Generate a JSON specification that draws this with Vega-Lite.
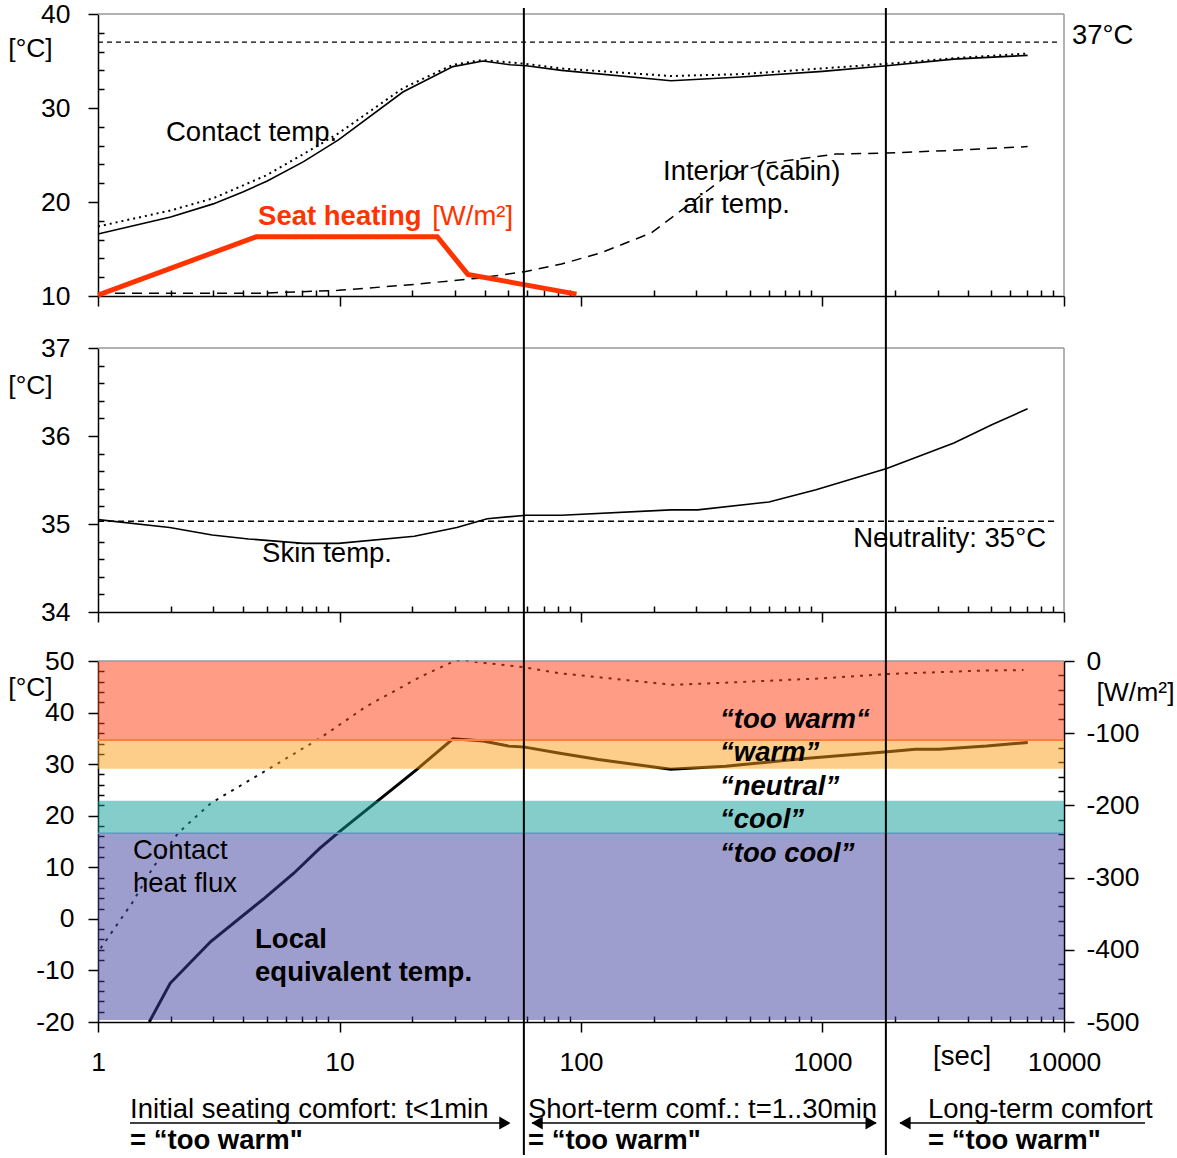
{
  "$schema": "https://vega.github.io/schema/vega-lite/v6.json",
  "width": 966,
  "height": 1147,
  "autosize": "none",
  "padding": {"left": 98, "top": 8, "right": 113, "bottom": 3},
  "background": "white",
  "config": {
    "view": {"stroke": null},
    "font": "Liberation Sans",
    "axis": {
      "domainColor": "black", "domainWidth": 1.5, "tickColor": "black", "tickWidth": 1.5,
      "labelColor": "black", "labelFontSize": 26.5, "labelFont": "Liberation Sans",
      "grid": false, "titleColor": "black", "titleFont": "Liberation Sans",
      "titleFontSize": 26.5, "titleFontWeight": "normal", "labelOverlap": false,
      "labelFlush": false, "labelBound": false
    },
    "text": {"font": "Liberation Sans", "fontSize": 27.5, "color": "black", "align": "left", "baseline": "middle"}
  },
  "data": {"values": [{}]},
  "datasets": {
    "contact": [{"t":1,"v":16.6},{"t":2,"v":18.4},{"t":3,"v":19.8},{"t":4,"v":21.1},{"t":5,"v":22.2},{"t":7.1,"v":24.3},{"t":9.9,"v":26.6},{"t":18.3,"v":31.7},{"t":29.5,"v":34.4},{"t":39.3,"v":35.0},{"t":50.9,"v":34.6},{"t":59.3,"v":34.5},{"t":83,"v":34.0},{"t":236,"v":32.9},{"t":460,"v":33.3},{"t":1000,"v":33.9},{"t":1845,"v":34.5},{"t":3500,"v":35.2},{"t":7070,"v":35.6}],
    "contactDot": [{"t":1,"v":17.4},{"t":2,"v":19.1},{"t":3,"v":20.4},{"t":4.94,"v":22.8},{"t":7.1,"v":25.1},{"t":9.9,"v":27.3},{"t":18.3,"v":32.1},{"t":29.5,"v":34.6},{"t":39,"v":35.1},{"t":59,"v":34.7},{"t":83,"v":34.2},{"t":236,"v":33.4},{"t":460,"v":33.6},{"t":1845,"v":34.7},{"t":3500,"v":35.3},{"t":7070,"v":35.8}],
    "air": [{"t":1,"v":10.3},{"t":4.8,"v":10.3},{"t":9.9,"v":10.6},{"t":19.7,"v":11.2},{"t":37.8,"v":11.9},{"t":59,"v":12.6},{"t":83,"v":13.4},{"t":121,"v":14.6},{"t":195,"v":16.7},{"t":273,"v":19.5},{"t":397,"v":22.7},{"t":580,"v":24.1},{"t":1140,"v":25.1},{"t":1845,"v":25.2},{"t":3500,"v":25.5},{"t":7070,"v":25.9}],
    "seat": [{"t":1,"v":10.1},{"t":4.52,"v":16.3},{"t":25.4,"v":16.3},{"t":34,"v":12.3},{"t":95.8,"v":10.2}],
    "skin": [{"t":1,"v":35.05},{"t":1.98,"v":34.96},{"t":2.97,"v":34.875},{"t":4.2,"v":34.83},{"t":7.1,"v":34.78},{"t":9.9,"v":34.78},{"t":20.4,"v":34.86},{"t":30.6,"v":34.96},{"t":40.9,"v":35.06},{"t":59.3,"v":35.1},{"t":83,"v":35.1},{"t":236,"v":35.16},{"t":304,"v":35.16},{"t":600,"v":35.25},{"t":940,"v":35.39},{"t":1845,"v":35.63},{"t":3500,"v":35.92},{"t":5050,"v":36.13},{"t":7070,"v":36.31}],
    "flux": [{"t":1.025,"w":-398},{"t":1.385,"w":-335},{"t":1.69,"w":-286},{"t":2.15,"w":-238},{"t":2.93,"w":-197},{"t":5.0,"w":-151},{"t":8.3,"w":-107},{"t":12.9,"w":-63},{"t":21.6,"w":-22},{"t":29.9,"w":0},{"t":33.6,"w":0},{"t":57.8,"w":-8.5},{"t":81.8,"w":-17},{"t":239,"w":-33},{"t":397,"w":-30},{"t":1000,"w":-24},{"t":1860,"w":-18},{"t":4460,"w":-13.4},{"t":6800,"w":-12.5}],
    "equiv": [{"t":1.63,"v":-20},{"t":1.99,"v":-12.5},{"t":2.93,"v":-4.4},{"t":4.8,"v":3.7},{"t":6.45,"v":8.8},{"t":8.3,"v":13.7},{"t":10,"v":16.9},{"t":20.8,"v":28.9},{"t":29.5,"v":34.9},{"t":39.3,"v":34.5},{"t":50,"v":33.5},{"t":58.5,"v":33.3},{"t":81.8,"v":32.1},{"t":118,"v":30.9},{"t":235,"v":29.0},{"t":397,"v":29.6},{"t":845,"v":31.1},{"t":1860,"v":32.4},{"t":2420,"v":32.9},{"t":3040,"v":32.9},{"t":4780,"v":33.5},{"t":7080,"v":34.2}],
    "bands": [{"band":"too warm","lo":34.7,"hi":50},{"band":"warm","lo":29.1,"hi":34.7},{"band":"cool","lo":16.6,"hi":22.9},{"band":"too cool","lo":-19.6,"hi":16.6}],
    "p1text": [{"t":1.912,"v":27.34,"label":"Contact temp."},{"t":218.6,"v":23.2,"label":"Interior (cabin)"},{"t":264.5,"v":19.7,"label":"air temp."},{"t":10790,"v":37.66,"label":"37°C"}],
    "p3text": [{"t":1.396,"v":13.16,"label":"Contact"},{"t":1.396,"v":6.76,"label":"heat flux"},{"t":2868,"v":-26.8,"label":"[sec]"},{"t":1.357,"v":-37.06,"label":"Initial seating comfort: t<1min"},{"t":60.3,"v":-37.06,"label":"Short-term comf.: t=1..30min"},{"t":2735,"v":-37.06,"label":"Long-term comfort"}],
    "p3bold": [{"t":4.47,"v":-4.1,"label":"Local"},{"t":4.47,"v":-10.5,"label":"equivalent temp."},{"t":1.357,"v":-43.08,"label":"= “too warm\""},{"t":60.3,"v":-43.08,"label":"= “too warm\""},{"t":2735,"v":-43.08,"label":"= “too warm\""}],
    "comfort": [{"t":376.3,"v":38.56,"label":"“too warm“"},{"t":376.3,"v":32.16,"label":"“warm”"},{"t":376.3,"v":25.57,"label":"“neutral”"},{"t":376.3,"v":19.17,"label":"“cool”"},{"t":376.3,"v":12.58,"label":"“too cool”"}],
    "arrows": [{"t":1.357,"t2":49.9,"v":-39.6},{"t":62.7,"t2":1665,"v":-39.6},{"t":2094,"t2":21647,"v":-39.6}],
    "headsR": [{"t":48.4,"v":-39.6},{"t":1590,"v":-39.6}],
    "headsL": [{"t":65.8,"v":-39.6},{"t":2195,"v":-39.6}],
    "periods": [{"t":58},{"t":1830}]
  },
  "resolve": {"scale": {"y": "independent"}, "axis": {"x": "independent", "y": "independent"}},
  "layer": [
    {"mark": {"type": "rule", "color": "#999999", "strokeWidth": 1.5},
     "encoding": {"x": {"datum": 1, "type": "quantitative", "scale": {"type": "log", "domain": [1, 10000], "nice": false}, "axis": null}, "x2": {"datum": 10000},
                  "y": {"datum": 40, "type": "quantitative", "scale": {"domain": [10, 40], "range": [288, 6], "nice": false, "zero": false}, "axis": null}}},
    {"mark": {"type": "rule", "color": "#999999", "strokeWidth": 1.5},
     "encoding": {"x": {"datum": 10000, "type": "quantitative", "scale": {"type": "log", "domain": [1, 10000], "nice": false}, "axis": null},
                  "y": {"datum": 10, "type": "quantitative", "scale": {"domain": [10, 40], "range": [288, 6], "nice": false, "zero": false}, "axis": null}, "y2": {"datum": 40}}},
    {"mark": {"type": "rule", "color": "black", "strokeWidth": 1.3, "strokeDash": [5, 4]},
     "encoding": {"x": {"datum": 1, "type": "quantitative", "scale": {"type": "log", "domain": [1, 10000], "nice": false}, "axis": null}, "x2": {"datum": 9355},
                  "y": {"datum": 37, "type": "quantitative", "scale": {"domain": [10, 40], "range": [288, 6], "nice": false, "zero": false}, "axis": null}}},
    {"data": {"name": "air"},
     "mark": {"type": "line", "color": "black", "strokeWidth": 1.5, "strokeDash": [10, 7]},
     "encoding": {"x": {"field": "t", "type": "quantitative", "scale": {"type": "log", "domain": [1, 10000], "nice": false}, "axis": null},
                  "y": {"field": "v", "type": "quantitative", "scale": {"domain": [10, 40], "range": [288, 6], "nice": false, "zero": false}, "axis": null}}},
    {"data": {"name": "contact"},
     "mark": {"type": "line", "color": "black", "strokeWidth": 1.6},
     "encoding": {"x": {"field": "t", "type": "quantitative", "scale": {"type": "log", "domain": [1, 10000], "nice": false},
                        "axis": {"orient": "bottom", "offset": -859, "values": [1,2,3,4,5,6,7,8,9,10,20,30,40,50,60,70,80,90,100,200,300,400,500,600,700,800,900,1000,2000,3000,4000,5000,6000,7000,8000,9000,10000], "labels": false, "title": null,
                                 "tickSize": {"condition": {"test": "indexof([1,10,100,1000,10000], datum.value) >= 0", "value": 10}, "value": -6}}},
                  "y": {"field": "v", "type": "quantitative", "scale": {"domain": [10, 40], "range": [288, 6], "nice": false, "zero": false},
                        "axis": {"orient": "left", "values": [10,12,14,16,18,20,22,24,26,28,30,32,34,36,38,40], "labelOverlap": false,
                                 "labelExpr": "datum.value % 10 == 0 ? '' + round(datum.value) : ''", "labelPadding": 18,
                                 "tickSize": {"condition": {"test": "datum.value % 10 == 0", "value": 10}, "value": -6},
                                 "title": "[°C]", "titleAngle": 0, "titleAlign": "center", "titleBaseline": "middle", "titleX": -68, "titleY": 40}}}},
    {"data": {"name": "contactDot"},
     "mark": {"type": "line", "color": "black", "strokeWidth": 2, "strokeDash": [2, 4]},
     "encoding": {"x": {"field": "t", "type": "quantitative", "scale": {"type": "log", "domain": [1, 10000], "nice": false}, "axis": null},
                  "y": {"field": "v", "type": "quantitative", "scale": {"domain": [10, 40], "range": [288, 6], "nice": false, "zero": false}, "axis": null}}},
    {"data": {"name": "seat"},
     "mark": {"type": "line", "color": "#FF3300", "strokeWidth": 5},
     "encoding": {"x": {"field": "t", "type": "quantitative", "scale": {"type": "log", "domain": [1, 10000], "nice": false}, "axis": null},
                  "y": {"field": "v", "type": "quantitative", "scale": {"domain": [10, 40], "range": [288, 6], "nice": false, "zero": false}, "axis": null}}},
    {"data": {"name": "p1text"},
     "mark": {"type": "text"},
     "encoding": {"x": {"field": "t", "type": "quantitative", "scale": {"type": "log", "domain": [1, 10000], "nice": false}, "axis": null},
                  "y": {"field": "v", "type": "quantitative", "scale": {"domain": [10, 40], "range": [288, 6], "nice": false, "zero": false}, "axis": null},
                  "text": {"field": "label"}}},
    {"mark": {"type": "text", "color": "#FF3300", "fontWeight": "bold"},
     "encoding": {"x": {"datum": 4.6, "type": "quantitative", "scale": {"type": "log", "domain": [1, 10000], "nice": false}, "axis": null},
                  "y": {"datum": 18.4, "type": "quantitative", "scale": {"domain": [10, 40], "range": [288, 6], "nice": false, "zero": false}, "axis": null},
                  "text": {"value": "Seat heating"}}},
    {"mark": {"type": "text", "color": "#FF3300"},
     "encoding": {"x": {"datum": 24.2, "type": "quantitative", "scale": {"type": "log", "domain": [1, 10000], "nice": false}, "axis": null},
                  "y": {"datum": 18.4, "type": "quantitative", "scale": {"domain": [10, 40], "range": [288, 6], "nice": false, "zero": false}, "axis": null},
                  "text": {"value": "[W/m²]"}}},

    {"mark": {"type": "rule", "color": "#999999", "strokeWidth": 1.5},
     "encoding": {"x": {"datum": 1, "type": "quantitative", "scale": {"type": "log", "domain": [1, 10000], "nice": false}, "axis": null}, "x2": {"datum": 10000},
                  "y": {"datum": 37, "type": "quantitative", "scale": {"domain": [34, 37], "range": [604, 340], "nice": false, "zero": false}, "axis": null}}},
    {"mark": {"type": "rule", "color": "#999999", "strokeWidth": 1.5},
     "encoding": {"x": {"datum": 10000, "type": "quantitative", "scale": {"type": "log", "domain": [1, 10000], "nice": false}, "axis": null},
                  "y": {"datum": 34, "type": "quantitative", "scale": {"domain": [34, 37], "range": [604, 340], "nice": false, "zero": false}, "axis": null}, "y2": {"datum": 37}}},
    {"mark": {"type": "rule", "color": "black", "strokeWidth": 1.5, "strokeDash": [6, 4]},
     "encoding": {"x": {"datum": 1, "type": "quantitative", "scale": {"type": "log", "domain": [1, 10000], "nice": false}, "axis": null}, "x2": {"datum": 9180},
                  "y": {"datum": 35.03, "type": "quantitative", "scale": {"domain": [34, 37], "range": [604, 340], "nice": false, "zero": false}, "axis": null}}},
    {"data": {"name": "skin"},
     "mark": {"type": "line", "color": "black", "strokeWidth": 1.6},
     "encoding": {"x": {"field": "t", "type": "quantitative", "scale": {"type": "log", "domain": [1, 10000], "nice": false},
                        "axis": {"orient": "bottom", "offset": -543, "values": [1,2,3,4,5,6,7,8,9,10,20,30,40,50,60,70,80,90,100,200,300,400,500,600,700,800,900,1000,2000,3000,4000,5000,6000,7000,8000,9000,10000], "labels": false, "title": null,
                                 "tickSize": {"condition": {"test": "indexof([1,10,100,1000,10000], datum.value) >= 0", "value": 10}, "value": -6}}},
                  "y": {"field": "v", "type": "quantitative", "scale": {"domain": [34, 37], "range": [604, 340], "nice": false, "zero": false},
                        "axis": {"orient": "left", "values": [34,34.2,34.4,34.6,34.8,35,35.2,35.4,35.6,35.8,36,36.2,36.4,36.6,36.8,37], "labelOverlap": false,
                                 "labelExpr": "abs(datum.value - round(datum.value)) < 0.01 ? '' + round(datum.value) : ''", "labelPadding": 18,
                                 "tickSize": {"condition": {"test": "abs(datum.value - round(datum.value)) < 0.01", "value": 10}, "value": -6},
                                 "title": "[°C]", "titleAngle": 0, "titleAlign": "center", "titleBaseline": "middle", "titleX": -68, "titleY": 377}}}},
    {"mark": {"type": "text"},
     "encoding": {"x": {"datum": 4.78, "type": "quantitative", "scale": {"type": "log", "domain": [1, 10000], "nice": false}, "axis": null},
                  "y": {"datum": 34.66, "type": "quantitative", "scale": {"domain": [34, 37], "range": [604, 340], "nice": false, "zero": false}, "axis": null},
                  "text": {"value": "Skin temp."}}},
    {"mark": {"type": "text", "align": "right"},
     "encoding": {"x": {"datum": 8425, "type": "quantitative", "scale": {"type": "log", "domain": [1, 10000], "nice": false}, "axis": null},
                  "y": {"datum": 34.83, "type": "quantitative", "scale": {"domain": [34, 37], "range": [604, 340], "nice": false, "zero": false}, "axis": null},
                  "text": {"value": "Neutrality: 35°C"}}},

    {"data": {"name": "flux"},
     "mark": {"type": "line", "color": "#111111", "strokeWidth": 2, "strokeDash": [3, 6]},
     "encoding": {
       "x": {"field": "t", "type": "quantitative", "scale": {"type": "log", "domain": [1, 10000], "nice": false}, "axis": null},
       "y": {"field": "w", "type": "quantitative", "scale": {"domain": [-500, 0], "range": [1014, 653], "nice": false, "zero": false},
             "axis": {"orient": "right", "values": [0,-20,-40,-60,-80,-100,-120,-140,-160,-180,-200,-220,-240,-260,-280,-300,-320,-340,-360,-380,-400,-420,-440,-460,-480,-500], "labelOverlap": false,
                      "labelExpr": "datum.value % 100 == 0 ? (datum.value < 0 ? '-' : '') + abs(datum.value) : ''", "labelPadding": 12,
                      "tickSize": {"condition": {"test": "datum.value % 100 == 0", "value": 10}, "value": -6},
                      "title": "[W/m²]", "titleAngle": 0, "titleAlign": "center", "titleBaseline": "middle", "titleX": 71, "titleY": 684}}}},
    {"data": {"name": "equiv"},
     "mark": {"type": "line", "color": "#000000", "strokeWidth": 3},
     "encoding": {"x": {"field": "t", "type": "quantitative", "scale": {"type": "log", "domain": [1, 10000], "nice": false},
                        "axis": {"orient": "bottom", "offset": -133, "values": [1,2,3,4,5,6,7,8,9,10,20,30,40,50,60,70,80,90,100,200,300,400,500,600,700,800,900,1000,2000,3000,4000,5000,6000,7000,8000,9000,10000], "labelOverlap": false,
                                 "labelExpr": "indexof([1,10,100,1000,10000], datum.value) >= 0 ? '' + round(datum.value) : ''", "labelPadding": 17, "title": null,
                                 "tickSize": {"condition": {"test": "indexof([1,10,100,1000,10000], datum.value) >= 0", "value": 10}, "value": -6}}},
                  "y": {"field": "v", "type": "quantitative", "scale": {"domain": [-20, 50], "range": [1014, 653], "nice": false, "zero": false},
                        "axis": {"orient": "left", "values": [-20,-18,-16,-14,-12,-10,-8,-6,-4,-2,0,2,4,6,8,10,12,14,16,18,20,22,24,26,28,30,32,34,36,38,40,42,44,46,48,50], "labelOverlap": false,
                                 "labelExpr": "datum.value % 10 == 0 ? (datum.value < 0 ? '-' : '') + abs(datum.value) : ''", "labelPadding": 14,
                                 "tickSize": {"condition": {"test": "datum.value % 10 == 0", "value": 10}, "value": -6},
                                 "title": "[°C]", "titleAngle": 0, "titleAlign": "center", "titleBaseline": "middle", "titleX": -68, "titleY": 679}}}},
    {"data": {"name": "bands"},
     "mark": {"type": "rect", "opacity": 0.5},
     "encoding": {"x": {"datum": 1, "type": "quantitative", "scale": {"type": "log", "domain": [1, 10000], "nice": false}, "axis": null}, "x2": {"datum": 10000},
                  "y": {"field": "lo", "type": "quantitative", "scale": {"domain": [-20, 50], "range": [1014, 653], "nice": false, "zero": false}, "axis": null}, "y2": {"field": "hi"},
                  "color": {"field": "band", "type": "nominal", "scale": {"domain": ["too warm", "warm", "cool", "too cool"], "range": ["#FD390D", "#FB9D15", "#099B97", "#3D3D9D"]}, "legend": null}}},
    {"mark": {"type": "rule", "color": "#FF7F40", "strokeWidth": 2},
     "encoding": {"x": {"datum": 1, "type": "quantitative", "scale": {"type": "log", "domain": [1, 10000], "nice": false}, "axis": null}, "x2": {"datum": 10000},
                  "y": {"datum": 34.7, "type": "quantitative", "scale": {"domain": [-20, 50], "range": [1014, 653], "nice": false, "zero": false}, "axis": null}}},
    {"mark": {"type": "rule", "color": "#5A9CC0", "strokeWidth": 1.5},
     "encoding": {"x": {"datum": 1, "type": "quantitative", "scale": {"type": "log", "domain": [1, 10000], "nice": false}, "axis": null}, "x2": {"datum": 10000},
                  "y": {"datum": 16.6, "type": "quantitative", "scale": {"domain": [-20, 50], "range": [1014, 653], "nice": false, "zero": false}, "axis": null}}},
    {"mark": {"type": "rule", "color": "#999999", "strokeWidth": 1.5},
     "encoding": {"x": {"datum": 1, "type": "quantitative", "scale": {"type": "log", "domain": [1, 10000], "nice": false}, "axis": null}, "x2": {"datum": 10000},
                  "y": {"datum": 50, "type": "quantitative", "scale": {"domain": [-20, 50], "range": [1014, 653], "nice": false, "zero": false}, "axis": null}}},
    {"data": {"name": "p3text"},
     "mark": {"type": "text"},
     "encoding": {"x": {"field": "t", "type": "quantitative", "scale": {"type": "log", "domain": [1, 10000], "nice": false}, "axis": null},
                  "y": {"field": "v", "type": "quantitative", "scale": {"domain": [-20, 50], "range": [1014, 653], "nice": false, "zero": false}, "axis": null},
                  "text": {"field": "label"}}},
    {"data": {"name": "p3bold"},
     "mark": {"type": "text", "fontWeight": "bold"},
     "encoding": {"x": {"field": "t", "type": "quantitative", "scale": {"type": "log", "domain": [1, 10000], "nice": false}, "axis": null},
                  "y": {"field": "v", "type": "quantitative", "scale": {"domain": [-20, 50], "range": [1014, 653], "nice": false, "zero": false}, "axis": null},
                  "text": {"field": "label"}}},
    {"data": {"name": "comfort"},
     "mark": {"type": "text", "fontWeight": "bold", "fontStyle": "italic"},
     "encoding": {"x": {"field": "t", "type": "quantitative", "scale": {"type": "log", "domain": [1, 10000], "nice": false}, "axis": null},
                  "y": {"field": "v", "type": "quantitative", "scale": {"domain": [-20, 50], "range": [1014, 653], "nice": false, "zero": false}, "axis": null},
                  "text": {"field": "label"}}},
    {"data": {"name": "arrows"},
     "mark": {"type": "rule", "color": "black", "strokeWidth": 1.5},
     "encoding": {"x": {"field": "t", "type": "quantitative", "scale": {"type": "log", "domain": [1, 10000], "nice": false}, "axis": null}, "x2": {"field": "t2"},
                  "y": {"field": "v", "type": "quantitative", "scale": {"domain": [-20, 50], "range": [1014, 653], "nice": false, "zero": false}, "axis": null}}},
    {"data": {"name": "headsR"},
     "mark": {"type": "point", "shape": "triangle-right", "filled": true, "color": "black", "opacity": 1, "size": 170},
     "encoding": {"x": {"field": "t", "type": "quantitative", "scale": {"type": "log", "domain": [1, 10000], "nice": false}, "axis": null},
                  "y": {"field": "v", "type": "quantitative", "scale": {"domain": [-20, 50], "range": [1014, 653], "nice": false, "zero": false}, "axis": null}}},
    {"data": {"name": "headsL"},
     "mark": {"type": "point", "shape": "triangle-left", "filled": true, "color": "black", "opacity": 1, "size": 170},
     "encoding": {"x": {"field": "t", "type": "quantitative", "scale": {"type": "log", "domain": [1, 10000], "nice": false}, "axis": null},
                  "y": {"field": "v", "type": "quantitative", "scale": {"domain": [-20, 50], "range": [1014, 653], "nice": false, "zero": false}, "axis": null}}},
    {"data": {"name": "periods"},
     "mark": {"type": "rule", "color": "black", "strokeWidth": 2},
     "encoding": {"x": {"field": "t", "type": "quantitative", "scale": {"type": "log", "domain": [1, 10000], "nice": false}, "axis": null}}}
  ]
}
